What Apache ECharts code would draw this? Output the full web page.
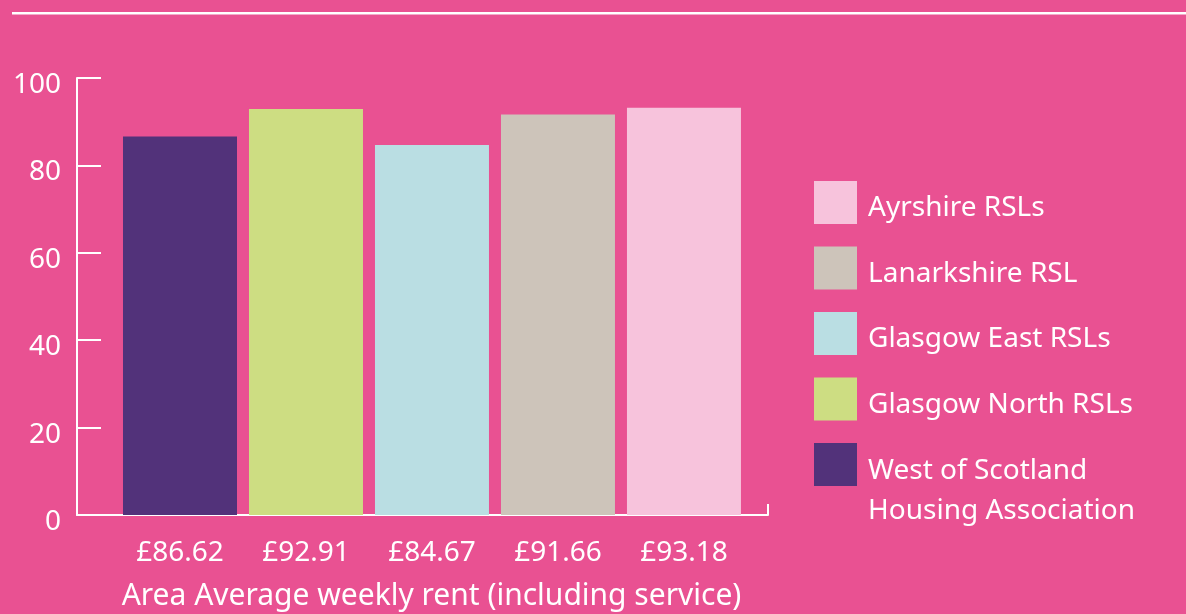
<!DOCTYPE html>
<html>
<head>
<meta charset="utf-8">
<script src="https://cdn.jsdelivr.net/npm/echarts@6/dist/echarts.min.js"></script>
<style>
  html, body { margin: 0; padding: 0; background: #E95192; }
  #main { width: 1186px; height: 614px; }
</style>
</head>
<body>
<div id="main"></div>
<script>
// data
const categories = ['£86.62', '£92.91', '£84.67', '£91.66', '£93.18'];
const seriesNames = ['West of Scotland Housing Association', 'Glasgow North RSLs', 'Glasgow East RSLs', 'Lanarkshire RSL', 'Ayrshire RSLs'];
const rentValues = [86.62, 92.91, 84.67, 91.66, 93.18];
const barColors = ['#52327A', '#CDDD82', '#BADEE3', '#CDC4BA', '#F7C3DC'];
const yTicks = [0, 20, 40, 60, 80, 100];

const font = 'Noto Sans';
const chart = echarts.init(document.getElementById('main'));

const series = seriesNames.map((name, i) => ({
  name: name,
  type: 'bar',
  barWidth: 114,
  barGap: '-100%',
  itemStyle: { color: barColors[i] },
  data: [[i + 1, rentValues[i]]]
}));

// square swatch with blank room to its right and below, so the text sits a bit low
const swatch = 'path://M0,0H43V43H0Z M49,55';
const swatchTall = 'path://M0,0H43V43H0Z M49,96';

const legendText = { color: '#ffffff', fontSize: 28, fontFamily: font };

let option = {
  backgroundColor: '#E95192',
  animation: false,
  textStyle: { fontFamily: font },
  graphic: [
    { type: 'rect', left: 12, top: 12, shape: { width: 1174, height: 2.5 }, style: { fill: '#ffffff' } }
  ],
  grid: { left: 77, right: 418, top: 78, bottom: 99, outerBoundsMode: 'none' },
  legend: [
    {
      orient: 'vertical',
      left: 814,
      top: 181,
      padding: 0,
      icon: swatch,
      itemWidth: 49,
      itemHeight: 55,
      itemGap: 10.5,
      textStyle: legendText,
      data: seriesNames.slice(1).reverse()
    },
    {
      orient: 'vertical',
      left: 814,
      top: 443,
      padding: 0,
      icon: swatchTall,
      itemWidth: 49,
      itemHeight: 96,
      textStyle: Object.assign({}, legendText, { lineHeight: 40 }),
      formatter: name => name.replace('Scotland ', 'Scotland\n'),
      data: seriesNames.slice(0, 1)
    }
  ],
  xAxis: {
    type: 'value',
    min: 0.1825,
    max: 5.667,
    name: 'Area Average weekly rent (including service)',
    nameLocation: 'middle',
    nameGap: 66,
    nameTextStyle: { color: '#ffffff', fontSize: 30, fontFamily: font, padding: [0, 0, 0, 18] },
    axisLine: { show: true, lineStyle: { color: '#ffffff', width: 2 } },
    axisTick: { show: true, inside: true, length: 11, customValues: [5.667], lineStyle: { color: '#ffffff', width: 2 } },
    axisLabel: {
      customValues: [1, 2, 3, 4, 5],
      formatter: v => categories[Math.round(v) - 1],
      color: '#ffffff',
      fontSize: 28,
      fontFamily: font,
      margin: 24
    },
    splitLine: { show: false }
  },
  yAxis: {
    type: 'value',
    min: yTicks[0],
    max: yTicks[yTicks.length - 1],
    interval: 20,
    axisLine: { show: true, lineStyle: { color: '#ffffff', width: 2 } },
    axisTick: { show: true, inside: true, length: 24, lineStyle: { color: '#ffffff', width: 2 } },
    axisLabel: { color: '#ffffff', fontSize: 28, fontFamily: font, margin: 16, verticalAlign: 'top', lineHeight: 14 },
    splitLine: { show: false }
  },
  series: series
};

option && chart.setOption(option);
</script>
</body>
</html>
